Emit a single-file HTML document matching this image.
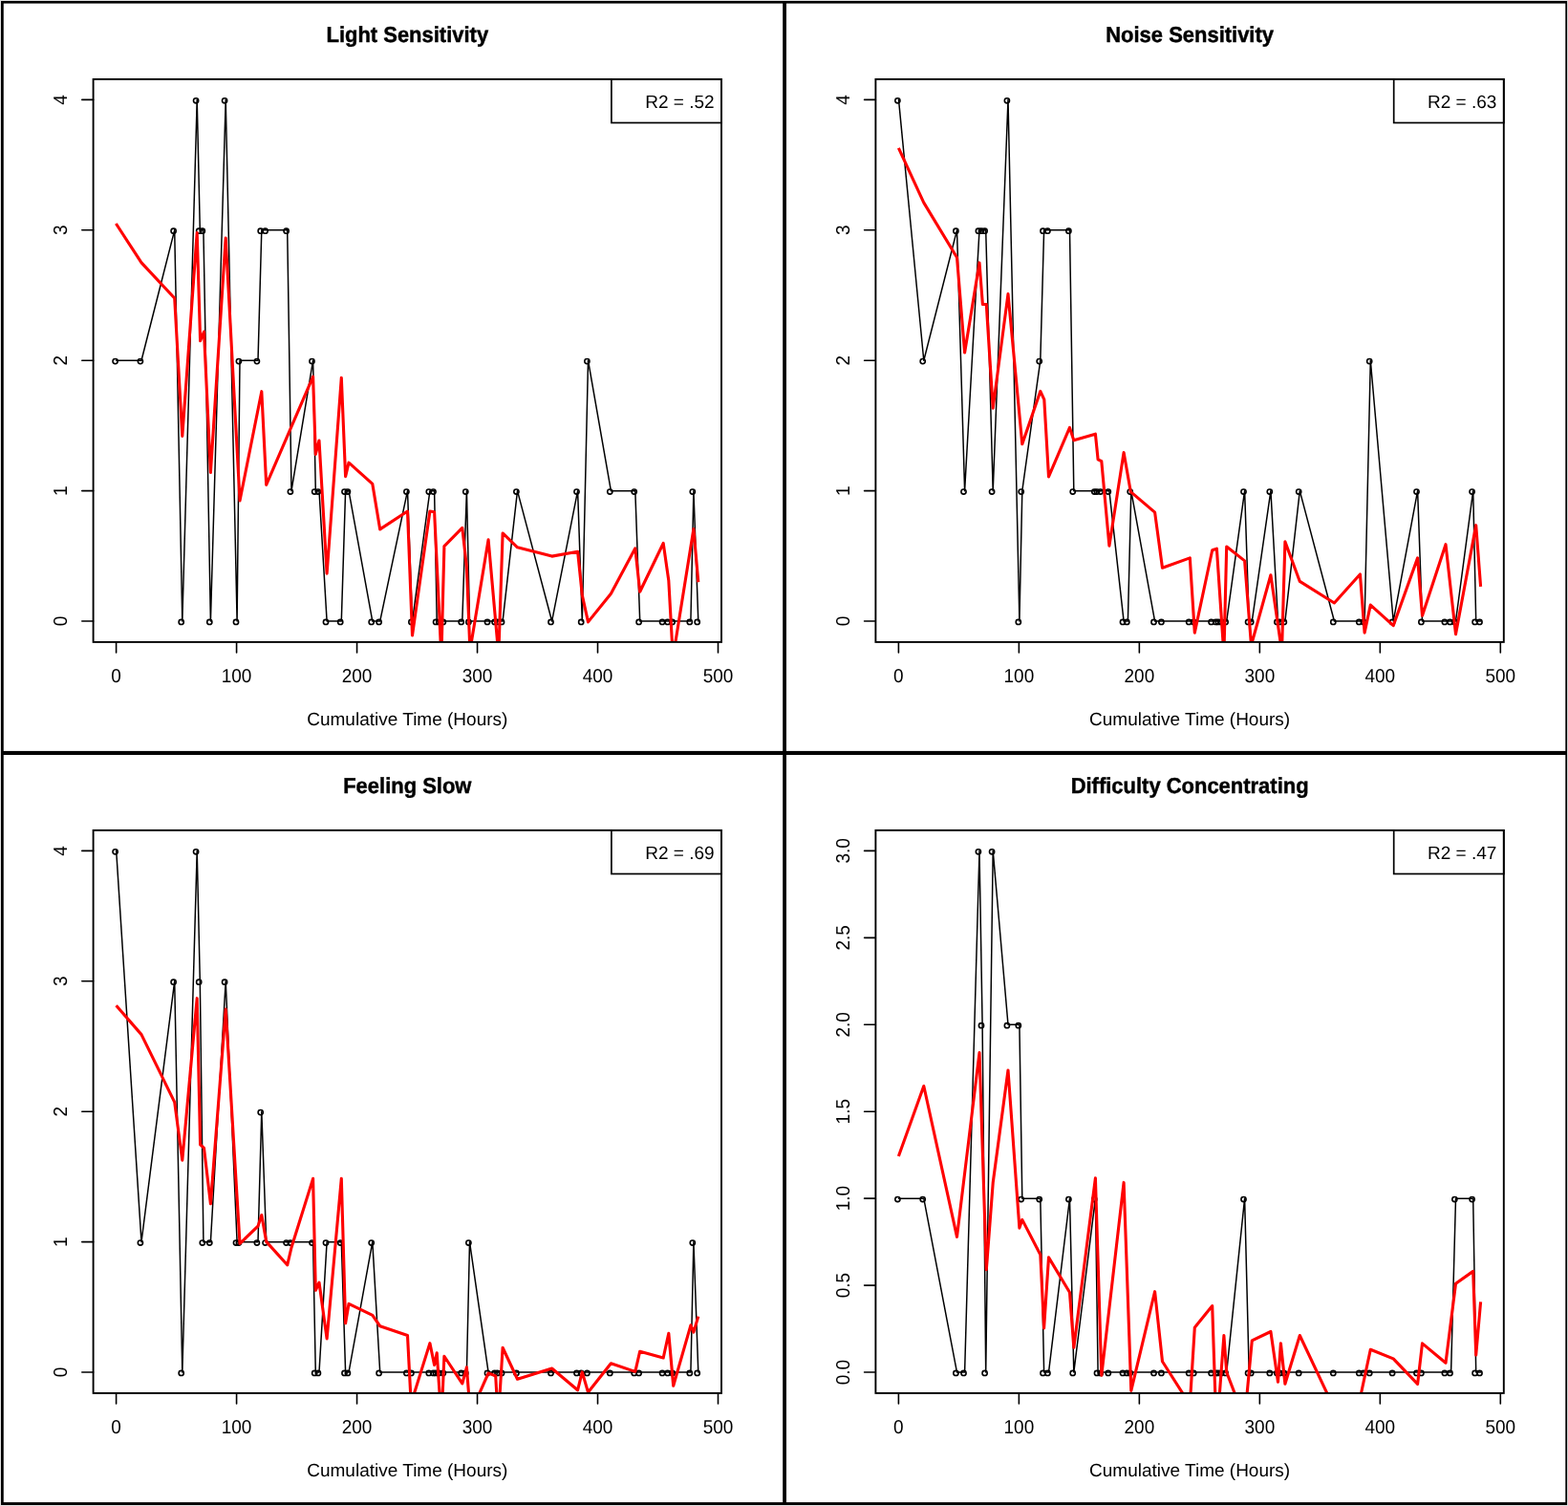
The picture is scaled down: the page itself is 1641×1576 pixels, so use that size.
<!DOCTYPE html>
<html><head><meta charset="utf-8"><title>Symptom time series</title>
<style>
html,body{margin:0;padding:0;background:#fff;}
svg{display:block;}
text{font-family:"Liberation Sans",Arial,sans-serif;fill:#000;text-rendering:geometricPrecision;}
.ttl{font-weight:bold;font-size:23.0px;text-anchor:middle;stroke:#000;stroke-width:0.45px;}
.lab{font-size:19.0px;text-anchor:middle;}
.tk{font-size:19.0px;text-anchor:middle;}
.lg{font-size:19.0px;text-anchor:end;}
.ax{stroke:#000;stroke-width:1.6;fill:none;stroke-linecap:round;}
.box{stroke:#000;stroke-width:1.9;fill:none;}
.leg{stroke:#000;stroke-width:1.7;fill:none;}
.bl{stroke:#000;stroke-width:1.5;fill:none;stroke-linejoin:round;stroke-linecap:round;}
.pt{stroke:#000;stroke-width:1.6;fill:none;}
.rd{stroke:#f00;stroke-width:3.1;fill:none;stroke-linejoin:round;stroke-linecap:butt;}
</style></head>
<body>
<svg width="1641" height="1576" viewBox="0 0 1641 1576">
<rect x="0" y="0" width="1641" height="1576" fill="#e0e0e0"/>
<rect x="1" y="1" width="1639.05" height="1574" fill="#000"/>
<rect x="3.75" y="3.6" width="815.45" height="782.3" fill="#fff"/>
<rect x="823.0" y="3.6" width="815.3" height="782.3" fill="#fff"/>
<rect x="3.75" y="790.0" width="815.45" height="782.1" fill="#fff"/>
<rect x="823.0" y="790.0" width="815.3" height="782.1" fill="#fff"/>
<clipPath id="clipTL"><rect x="97.6" y="82.9" width="657.4" height="589"/></clipPath>
<text class="ttl" transform="translate(426.3 44.3) scale(0.955 1.0)">Light Sensitivity</text>
<text class="lab" transform="translate(426.3 758.8) scale(1.0 1.0)">Cumulative Time (Hours)</text>
<path class="ax" d="M121.6 671.9V682.9M247.58 671.9V682.9M373.56 671.9V682.9M499.54 671.9V682.9M625.52 671.9V682.9M751.5 671.9V682.9M97.6 650.05H85.8M97.6 513.64H85.8M97.6 377.22H85.8M97.6 240.81H85.8M97.6 104.4H85.8"/>
<text class="tk" transform="translate(121.6 713.6) scale(1.0 1.06)">0</text>
<text class="tk" transform="translate(247.58 713.6) scale(1.0 1.06)">100</text>
<text class="tk" transform="translate(373.56 713.6) scale(1.0 1.06)">200</text>
<text class="tk" transform="translate(499.54 713.6) scale(1.0 1.06)">300</text>
<text class="tk" transform="translate(625.52 713.6) scale(1.0 1.06)">400</text>
<text class="tk" transform="translate(751.5 713.6) scale(1.0 1.06)">500</text>
<text class="tk" transform="translate(69.9 650.05) rotate(-90) scale(1.0 1.06)">0</text>
<text class="tk" transform="translate(69.9 513.64) rotate(-90) scale(1.0 1.06)">1</text>
<text class="tk" transform="translate(69.9 377.22) rotate(-90) scale(1.0 1.06)">2</text>
<text class="tk" transform="translate(69.9 240.81) rotate(-90) scale(1.0 1.06)">3</text>
<text class="tk" transform="translate(69.9 104.4) rotate(-90) scale(1.0 1.06)">4</text>
<g clip-path="url(#clipTL)">
<polyline class="bl" points="121.7,377.22 148,377.22 182.7,240.81 190.8,650.05 206.2,104.4 209.3,240.81 212.9,240.81 220.4,650.05 236.2,104.4 248.1,650.05 251,377.22 270,377.22 273.8,240.81 278.7,240.81 300.7,240.81 305,513.64 327.6,377.22 330.3,513.64 334,513.64 342.1,650.05 357.3,650.05 361.6,513.64 365,513.64 389.8,650.05 397.7,650.05 426.5,513.64 431.5,650.05 449.9,513.64 454.6,513.64 457.2,650.05 460.4,650.05 464.9,650.05 483.8,650.05 488.4,513.64 491.5,650.05 511.1,650.05 518.7,650.05 521.6,650.05 526.1,650.05 541.5,513.64 577.6,650.05 604.6,513.64 609.3,650.05 615.5,377.22 639.4,513.64 664.8,513.64 669.7,650.05 694.2,650.05 699.8,650.05 704.7,650.05 722.9,650.05 725.9,513.64 730.8,650.05"/>
<circle class="pt" cx="120.6" cy="378.12" r="2.6"/>
<circle class="pt" cx="146.9" cy="378.12" r="2.6"/>
<circle class="pt" cx="181.6" cy="241.71" r="2.6"/>
<circle class="pt" cx="189.7" cy="650.95" r="2.6"/>
<circle class="pt" cx="205.1" cy="105.3" r="2.6"/>
<circle class="pt" cx="208.2" cy="241.71" r="2.6"/>
<circle class="pt" cx="211.8" cy="241.71" r="2.6"/>
<circle class="pt" cx="219.3" cy="650.95" r="2.6"/>
<circle class="pt" cx="235.1" cy="105.3" r="2.6"/>
<circle class="pt" cx="247" cy="650.95" r="2.6"/>
<circle class="pt" cx="249.9" cy="378.12" r="2.6"/>
<circle class="pt" cx="268.9" cy="378.12" r="2.6"/>
<circle class="pt" cx="272.7" cy="241.71" r="2.6"/>
<circle class="pt" cx="277.6" cy="241.71" r="2.6"/>
<circle class="pt" cx="299.6" cy="241.71" r="2.6"/>
<circle class="pt" cx="303.9" cy="514.54" r="2.6"/>
<circle class="pt" cx="326.5" cy="378.12" r="2.6"/>
<circle class="pt" cx="329.2" cy="514.54" r="2.6"/>
<circle class="pt" cx="332.9" cy="514.54" r="2.6"/>
<circle class="pt" cx="341" cy="650.95" r="2.6"/>
<circle class="pt" cx="356.2" cy="650.95" r="2.6"/>
<circle class="pt" cx="360.5" cy="514.54" r="2.6"/>
<circle class="pt" cx="363.9" cy="514.54" r="2.6"/>
<circle class="pt" cx="388.7" cy="650.95" r="2.6"/>
<circle class="pt" cx="396.6" cy="650.95" r="2.6"/>
<circle class="pt" cx="425.4" cy="514.54" r="2.6"/>
<circle class="pt" cx="430.4" cy="650.95" r="2.6"/>
<circle class="pt" cx="448.8" cy="514.54" r="2.6"/>
<circle class="pt" cx="453.5" cy="514.54" r="2.6"/>
<circle class="pt" cx="456.1" cy="650.95" r="2.6"/>
<circle class="pt" cx="459.3" cy="650.95" r="2.6"/>
<circle class="pt" cx="463.8" cy="650.95" r="2.6"/>
<circle class="pt" cx="482.7" cy="650.95" r="2.6"/>
<circle class="pt" cx="487.3" cy="514.54" r="2.6"/>
<circle class="pt" cx="490.4" cy="650.95" r="2.6"/>
<circle class="pt" cx="510" cy="650.95" r="2.6"/>
<circle class="pt" cx="517.6" cy="650.95" r="2.6"/>
<circle class="pt" cx="520.5" cy="650.95" r="2.6"/>
<circle class="pt" cx="525" cy="650.95" r="2.6"/>
<circle class="pt" cx="540.4" cy="514.54" r="2.6"/>
<circle class="pt" cx="576.5" cy="650.95" r="2.6"/>
<circle class="pt" cx="603.5" cy="514.54" r="2.6"/>
<circle class="pt" cx="608.2" cy="650.95" r="2.6"/>
<circle class="pt" cx="614.4" cy="378.12" r="2.6"/>
<circle class="pt" cx="638.3" cy="514.54" r="2.6"/>
<circle class="pt" cx="663.7" cy="514.54" r="2.6"/>
<circle class="pt" cx="668.6" cy="650.95" r="2.6"/>
<circle class="pt" cx="693.1" cy="650.95" r="2.6"/>
<circle class="pt" cx="698.7" cy="650.95" r="2.6"/>
<circle class="pt" cx="703.6" cy="650.95" r="2.6"/>
<circle class="pt" cx="721.8" cy="650.95" r="2.6"/>
<circle class="pt" cx="724.8" cy="514.54" r="2.6"/>
<circle class="pt" cx="729.7" cy="650.95" r="2.6"/>
<polyline class="rd" points="121.4,233.99 148,274.92 182.7,312.02 190.8,456.34 206.2,243.54 209.6,356.76 213.5,347.21 220.4,494.54 236.2,249 251,523.87 273.8,409.69 278.7,507.36 327.6,394.14 330.3,475.44 334,460.98 342.1,600.26 357.3,395.37 361.6,498.63 365,484.17 389.8,506.41 397.7,553.88 426.5,535.05 431.5,665.06 449.9,535.05 454.6,535.74 461.9,687.97 464.9,571.61 483.8,552.38 488.4,593.3 491.9,680.74 511.1,564.79 521.8,685.52 526.1,557.97 541.5,572.84 577.6,582.12 604.6,577.21 609.3,622.77 615.5,650.87 639.4,621.27 664.8,573.8 669.7,619.22 694.2,568.48 699.8,607.49 704.3,688.25 725.9,553.61 730.8,609.26"/>
</g>
<rect class="box" x="97.6" y="82.9" width="657.4" height="589"/>
<rect class="leg" x="639.9" y="82.9" width="115.1" height="45.6"/>
<text class="lg" transform="translate(747.6 112.9) scale(1.0 1.0)">R2 = .52</text>
<clipPath id="clipTR"><rect x="916.4" y="82.9" width="657.4" height="589"/></clipPath>
<text class="ttl" transform="translate(1245.1 44.3) scale(0.955 1.0)">Noise Sensitivity</text>
<text class="lab" transform="translate(1245.1 758.8) scale(1.0 1.0)">Cumulative Time (Hours)</text>
<path class="ax" d="M940.4 671.9V682.9M1066.38 671.9V682.9M1192.36 671.9V682.9M1318.34 671.9V682.9M1444.32 671.9V682.9M1570.3 671.9V682.9M916.4 650.05H904.6M916.4 513.64H904.6M916.4 377.22H904.6M916.4 240.81H904.6M916.4 104.4H904.6"/>
<text class="tk" transform="translate(940.4 713.6) scale(1.0 1.06)">0</text>
<text class="tk" transform="translate(1066.38 713.6) scale(1.0 1.06)">100</text>
<text class="tk" transform="translate(1192.36 713.6) scale(1.0 1.06)">200</text>
<text class="tk" transform="translate(1318.34 713.6) scale(1.0 1.06)">300</text>
<text class="tk" transform="translate(1444.32 713.6) scale(1.0 1.06)">400</text>
<text class="tk" transform="translate(1570.3 713.6) scale(1.0 1.06)">500</text>
<text class="tk" transform="translate(888.7 650.05) rotate(-90) scale(1.0 1.06)">0</text>
<text class="tk" transform="translate(888.7 513.64) rotate(-90) scale(1.0 1.06)">1</text>
<text class="tk" transform="translate(888.7 377.22) rotate(-90) scale(1.0 1.06)">2</text>
<text class="tk" transform="translate(888.7 240.81) rotate(-90) scale(1.0 1.06)">3</text>
<text class="tk" transform="translate(888.7 104.4) rotate(-90) scale(1.0 1.06)">4</text>
<g clip-path="url(#clipTR)">
<polyline class="bl" points="940.5,104.4 966.8,377.22 1001.5,240.81 1009.6,513.64 1025,240.81 1028.1,240.81 1031.7,240.81 1039.2,513.64 1055,104.4 1066.9,650.05 1069.8,513.64 1088.8,377.22 1092.6,240.81 1097.5,240.81 1119.5,240.81 1123.8,513.64 1146.4,513.64 1149.1,513.64 1152.8,513.64 1160.9,513.64 1176.1,650.05 1180.4,650.05 1183.8,513.64 1208.6,650.05 1216.5,650.05 1245.3,650.05 1250.3,650.05 1268.7,650.05 1273.4,650.05 1276,650.05 1279.2,650.05 1283.7,650.05 1302.6,513.64 1307.2,650.05 1310.3,650.05 1329.9,513.64 1337.5,650.05 1340.4,650.05 1344.9,650.05 1360.3,513.64 1396.4,650.05 1423.4,650.05 1428.1,650.05 1434.3,377.22 1458.2,650.05 1483.6,513.64 1488.5,650.05 1513,650.05 1518.6,650.05 1523.5,650.05 1541.7,513.64 1544.7,650.05 1549.6,650.05"/>
<circle class="pt" cx="939.4" cy="105.3" r="2.6"/>
<circle class="pt" cx="965.7" cy="378.12" r="2.6"/>
<circle class="pt" cx="1000.4" cy="241.71" r="2.6"/>
<circle class="pt" cx="1008.5" cy="514.54" r="2.6"/>
<circle class="pt" cx="1023.9" cy="241.71" r="2.6"/>
<circle class="pt" cx="1027" cy="241.71" r="2.6"/>
<circle class="pt" cx="1030.6" cy="241.71" r="2.6"/>
<circle class="pt" cx="1038.1" cy="514.54" r="2.6"/>
<circle class="pt" cx="1053.9" cy="105.3" r="2.6"/>
<circle class="pt" cx="1065.8" cy="650.95" r="2.6"/>
<circle class="pt" cx="1068.7" cy="514.54" r="2.6"/>
<circle class="pt" cx="1087.7" cy="378.12" r="2.6"/>
<circle class="pt" cx="1091.5" cy="241.71" r="2.6"/>
<circle class="pt" cx="1096.4" cy="241.71" r="2.6"/>
<circle class="pt" cx="1118.4" cy="241.71" r="2.6"/>
<circle class="pt" cx="1122.7" cy="514.54" r="2.6"/>
<circle class="pt" cx="1145.3" cy="514.54" r="2.6"/>
<circle class="pt" cx="1148" cy="514.54" r="2.6"/>
<circle class="pt" cx="1151.7" cy="514.54" r="2.6"/>
<circle class="pt" cx="1159.8" cy="514.54" r="2.6"/>
<circle class="pt" cx="1175" cy="650.95" r="2.6"/>
<circle class="pt" cx="1179.3" cy="650.95" r="2.6"/>
<circle class="pt" cx="1182.7" cy="514.54" r="2.6"/>
<circle class="pt" cx="1207.5" cy="650.95" r="2.6"/>
<circle class="pt" cx="1215.4" cy="650.95" r="2.6"/>
<circle class="pt" cx="1244.2" cy="650.95" r="2.6"/>
<circle class="pt" cx="1249.2" cy="650.95" r="2.6"/>
<circle class="pt" cx="1267.6" cy="650.95" r="2.6"/>
<circle class="pt" cx="1272.3" cy="650.95" r="2.6"/>
<circle class="pt" cx="1274.9" cy="650.95" r="2.6"/>
<circle class="pt" cx="1278.1" cy="650.95" r="2.6"/>
<circle class="pt" cx="1282.6" cy="650.95" r="2.6"/>
<circle class="pt" cx="1301.5" cy="514.54" r="2.6"/>
<circle class="pt" cx="1306.1" cy="650.95" r="2.6"/>
<circle class="pt" cx="1309.2" cy="650.95" r="2.6"/>
<circle class="pt" cx="1328.8" cy="514.54" r="2.6"/>
<circle class="pt" cx="1336.4" cy="650.95" r="2.6"/>
<circle class="pt" cx="1339.3" cy="650.95" r="2.6"/>
<circle class="pt" cx="1343.8" cy="650.95" r="2.6"/>
<circle class="pt" cx="1359.2" cy="514.54" r="2.6"/>
<circle class="pt" cx="1395.3" cy="650.95" r="2.6"/>
<circle class="pt" cx="1422.3" cy="650.95" r="2.6"/>
<circle class="pt" cx="1427" cy="650.95" r="2.6"/>
<circle class="pt" cx="1433.2" cy="378.12" r="2.6"/>
<circle class="pt" cx="1457.1" cy="650.95" r="2.6"/>
<circle class="pt" cx="1482.5" cy="514.54" r="2.6"/>
<circle class="pt" cx="1487.4" cy="650.95" r="2.6"/>
<circle class="pt" cx="1511.9" cy="650.95" r="2.6"/>
<circle class="pt" cx="1517.5" cy="650.95" r="2.6"/>
<circle class="pt" cx="1522.4" cy="650.95" r="2.6"/>
<circle class="pt" cx="1540.6" cy="514.54" r="2.6"/>
<circle class="pt" cx="1543.6" cy="650.95" r="2.6"/>
<circle class="pt" cx="1548.5" cy="650.95" r="2.6"/>
<polyline class="rd" points="940.4,154.87 966.8,212.17 1001.5,269.46 1009.6,369.04 1025,274.92 1028.4,318.57 1032.3,318.57 1039.2,427.15 1055,307.65 1069.8,464.8 1088.8,409.42 1092.8,418.15 1097.5,498.9 1119.5,447.48 1123.8,460.85 1146.4,454.16 1149.1,480.76 1152.8,482.67 1160.9,571.2 1176.1,473.53 1183.3,514.59 1208.6,536.15 1216.5,594.26 1245.3,583.89 1250.3,662.19 1268.7,575.71 1273.4,574.2 1280.9,685.24 1283.7,572.02 1302.6,586.89 1309.5,675.29 1329.9,601.76 1341.5,681.83 1344.9,566.84 1360.3,608.44 1396.4,630.95 1423.4,600.94 1428.1,662.19 1434.3,633.13 1458.2,654.69 1483.6,583.89 1488.5,644.32 1513,569.7 1523.5,663.69 1544.7,549.65 1549.6,613.76"/>
</g>
<rect class="box" x="916.4" y="82.9" width="657.4" height="589"/>
<rect class="leg" x="1458.7" y="82.9" width="115.1" height="45.6"/>
<text class="lg" transform="translate(1566.4 112.9) scale(1.0 1.0)">R2 = .63</text>
<clipPath id="clipBL"><rect x="97.6" y="868.9" width="657.4" height="589"/></clipPath>
<text class="ttl" transform="translate(426.3 830.3) scale(0.955 1.0)">Feeling Slow</text>
<text class="lab" transform="translate(426.3 1544.8) scale(1.0 1.0)">Cumulative Time (Hours)</text>
<path class="ax" d="M121.6 1457.9V1468.9M247.58 1457.9V1468.9M373.56 1457.9V1468.9M499.54 1457.9V1468.9M625.52 1457.9V1468.9M751.5 1457.9V1468.9M97.6 1436.05H85.8M97.6 1299.64H85.8M97.6 1163.22H85.8M97.6 1026.81H85.8M97.6 890.4H85.8"/>
<text class="tk" transform="translate(121.6 1499.6) scale(1.0 1.06)">0</text>
<text class="tk" transform="translate(247.58 1499.6) scale(1.0 1.06)">100</text>
<text class="tk" transform="translate(373.56 1499.6) scale(1.0 1.06)">200</text>
<text class="tk" transform="translate(499.54 1499.6) scale(1.0 1.06)">300</text>
<text class="tk" transform="translate(625.52 1499.6) scale(1.0 1.06)">400</text>
<text class="tk" transform="translate(751.5 1499.6) scale(1.0 1.06)">500</text>
<text class="tk" transform="translate(69.9 1436.05) rotate(-90) scale(1.0 1.06)">0</text>
<text class="tk" transform="translate(69.9 1299.64) rotate(-90) scale(1.0 1.06)">1</text>
<text class="tk" transform="translate(69.9 1163.22) rotate(-90) scale(1.0 1.06)">2</text>
<text class="tk" transform="translate(69.9 1026.81) rotate(-90) scale(1.0 1.06)">3</text>
<text class="tk" transform="translate(69.9 890.4) rotate(-90) scale(1.0 1.06)">4</text>
<g clip-path="url(#clipBL)">
<polyline class="bl" points="121.7,890.4 148,1299.64 182.7,1026.81 190.8,1436.05 206.2,890.4 209.3,1026.81 212.9,1299.64 220.4,1299.64 236.2,1026.81 248.1,1299.64 251,1299.64 270,1299.64 273.8,1163.22 278.7,1299.64 300.7,1299.64 305,1299.64 327.6,1299.64 330.3,1436.05 334,1436.05 342.1,1299.64 357.3,1299.64 361.6,1436.05 365,1436.05 389.8,1299.64 397.7,1436.05 426.5,1436.05 431.5,1436.05 449.9,1436.05 454.6,1436.05 457.2,1436.05 460.4,1436.05 464.9,1436.05 483.8,1436.05 488.4,1436.05 491.5,1299.64 511.1,1436.05 518.7,1436.05 521.6,1436.05 526.1,1436.05 541.5,1436.05 577.6,1436.05 604.6,1436.05 609.3,1436.05 615.5,1436.05 639.4,1436.05 664.8,1436.05 669.7,1436.05 694.2,1436.05 699.8,1436.05 704.7,1436.05 722.9,1436.05 725.9,1299.64 730.8,1436.05"/>
<circle class="pt" cx="120.6" cy="891.3" r="2.6"/>
<circle class="pt" cx="146.9" cy="1300.54" r="2.6"/>
<circle class="pt" cx="181.6" cy="1027.71" r="2.6"/>
<circle class="pt" cx="189.7" cy="1436.95" r="2.6"/>
<circle class="pt" cx="205.1" cy="891.3" r="2.6"/>
<circle class="pt" cx="208.2" cy="1027.71" r="2.6"/>
<circle class="pt" cx="211.8" cy="1300.54" r="2.6"/>
<circle class="pt" cx="219.3" cy="1300.54" r="2.6"/>
<circle class="pt" cx="235.1" cy="1027.71" r="2.6"/>
<circle class="pt" cx="247" cy="1300.54" r="2.6"/>
<circle class="pt" cx="249.9" cy="1300.54" r="2.6"/>
<circle class="pt" cx="268.9" cy="1300.54" r="2.6"/>
<circle class="pt" cx="272.7" cy="1164.12" r="2.6"/>
<circle class="pt" cx="277.6" cy="1300.54" r="2.6"/>
<circle class="pt" cx="299.6" cy="1300.54" r="2.6"/>
<circle class="pt" cx="303.9" cy="1300.54" r="2.6"/>
<circle class="pt" cx="326.5" cy="1300.54" r="2.6"/>
<circle class="pt" cx="329.2" cy="1436.95" r="2.6"/>
<circle class="pt" cx="332.9" cy="1436.95" r="2.6"/>
<circle class="pt" cx="341" cy="1300.54" r="2.6"/>
<circle class="pt" cx="356.2" cy="1300.54" r="2.6"/>
<circle class="pt" cx="360.5" cy="1436.95" r="2.6"/>
<circle class="pt" cx="363.9" cy="1436.95" r="2.6"/>
<circle class="pt" cx="388.7" cy="1300.54" r="2.6"/>
<circle class="pt" cx="396.6" cy="1436.95" r="2.6"/>
<circle class="pt" cx="425.4" cy="1436.95" r="2.6"/>
<circle class="pt" cx="430.4" cy="1436.95" r="2.6"/>
<circle class="pt" cx="448.8" cy="1436.95" r="2.6"/>
<circle class="pt" cx="453.5" cy="1436.95" r="2.6"/>
<circle class="pt" cx="456.1" cy="1436.95" r="2.6"/>
<circle class="pt" cx="459.3" cy="1436.95" r="2.6"/>
<circle class="pt" cx="463.8" cy="1436.95" r="2.6"/>
<circle class="pt" cx="482.7" cy="1436.95" r="2.6"/>
<circle class="pt" cx="487.3" cy="1436.95" r="2.6"/>
<circle class="pt" cx="490.4" cy="1300.54" r="2.6"/>
<circle class="pt" cx="510" cy="1436.95" r="2.6"/>
<circle class="pt" cx="517.6" cy="1436.95" r="2.6"/>
<circle class="pt" cx="520.5" cy="1436.95" r="2.6"/>
<circle class="pt" cx="525" cy="1436.95" r="2.6"/>
<circle class="pt" cx="540.4" cy="1436.95" r="2.6"/>
<circle class="pt" cx="576.5" cy="1436.95" r="2.6"/>
<circle class="pt" cx="603.5" cy="1436.95" r="2.6"/>
<circle class="pt" cx="608.2" cy="1436.95" r="2.6"/>
<circle class="pt" cx="614.4" cy="1436.95" r="2.6"/>
<circle class="pt" cx="638.3" cy="1436.95" r="2.6"/>
<circle class="pt" cx="663.7" cy="1436.95" r="2.6"/>
<circle class="pt" cx="668.6" cy="1436.95" r="2.6"/>
<circle class="pt" cx="693.1" cy="1436.95" r="2.6"/>
<circle class="pt" cx="698.7" cy="1436.95" r="2.6"/>
<circle class="pt" cx="703.6" cy="1436.95" r="2.6"/>
<circle class="pt" cx="721.8" cy="1436.95" r="2.6"/>
<circle class="pt" cx="724.8" cy="1300.54" r="2.6"/>
<circle class="pt" cx="729.7" cy="1436.95" r="2.6"/>
<polyline class="rd" points="121.6,1052.32 148,1082.61 182.7,1153.4 190.8,1214.11 206.2,1044.68 209.6,1197.87 213.5,1201.42 220.4,1259.81 236.2,1056.14 251,1301.41 270,1283.13 273.8,1271.54 278.7,1299.36 300.7,1323.78 305,1305.5 327.6,1233.34 330.3,1350.25 334,1342.06 342.1,1400.86 357.3,1233.34 361.6,1384.76 365,1364.43 389.8,1376.44 397.7,1387.76 426.5,1397.58 430.2,1468.79 449.9,1405.63 454.6,1428.55 457.2,1415.86 460.4,1463.33 463,1463.33 464.9,1419.27 483.8,1447.92 488.4,1430.87 492.2,1479.7 511.1,1437 518.7,1439.87 521.4,1486.52 526.1,1410.27 541.5,1443.28 577.6,1431.96 604.6,1454.74 609.3,1435.91 615.5,1457.06 639.4,1426.77 664.8,1435.37 669.7,1414.22 694.2,1421.04 699.8,1395.26 704.7,1450.24 722.9,1386.81 725.9,1394.17 730.8,1377.67"/>
</g>
<rect class="box" x="97.6" y="868.9" width="657.4" height="589"/>
<rect class="leg" x="639.9" y="868.9" width="115.1" height="45.6"/>
<text class="lg" transform="translate(747.6 898.9) scale(1.0 1.0)">R2 = .69</text>
<clipPath id="clipBR"><rect x="916.4" y="868.9" width="657.4" height="589"/></clipPath>
<text class="ttl" transform="translate(1245.1 830.3) scale(0.955 1.0)">Difficulty Concentrating</text>
<text class="lab" transform="translate(1245.1 1544.8) scale(1.0 1.0)">Cumulative Time (Hours)</text>
<path class="ax" d="M940.4 1457.9V1468.9M1066.38 1457.9V1468.9M1192.36 1457.9V1468.9M1318.34 1457.9V1468.9M1444.32 1457.9V1468.9M1570.3 1457.9V1468.9M916.4 1436.05H904.6M916.4 1345.11H904.6M916.4 1254.17H904.6M916.4 1163.22H904.6M916.4 1072.28H904.6M916.4 981.34H904.6M916.4 890.4H904.6"/>
<text class="tk" transform="translate(940.4 1499.6) scale(1.0 1.06)">0</text>
<text class="tk" transform="translate(1066.38 1499.6) scale(1.0 1.06)">100</text>
<text class="tk" transform="translate(1192.36 1499.6) scale(1.0 1.06)">200</text>
<text class="tk" transform="translate(1318.34 1499.6) scale(1.0 1.06)">300</text>
<text class="tk" transform="translate(1444.32 1499.6) scale(1.0 1.06)">400</text>
<text class="tk" transform="translate(1570.3 1499.6) scale(1.0 1.06)">500</text>
<text class="tk" transform="translate(888.7 1436.05) rotate(-90) scale(1.0 1.06)">0.0</text>
<text class="tk" transform="translate(888.7 1345.11) rotate(-90) scale(1.0 1.06)">0.5</text>
<text class="tk" transform="translate(888.7 1254.17) rotate(-90) scale(1.0 1.06)">1.0</text>
<text class="tk" transform="translate(888.7 1163.22) rotate(-90) scale(1.0 1.06)">1.5</text>
<text class="tk" transform="translate(888.7 1072.28) rotate(-90) scale(1.0 1.06)">2.0</text>
<text class="tk" transform="translate(888.7 981.34) rotate(-90) scale(1.0 1.06)">2.5</text>
<text class="tk" transform="translate(888.7 890.4) rotate(-90) scale(1.0 1.06)">3.0</text>
<g clip-path="url(#clipBR)">
<polyline class="bl" points="940.5,1254.17 966.8,1254.17 1001.5,1436.05 1009.6,1436.05 1025,890.4 1028.1,1072.28 1031.7,1436.05 1039.2,890.4 1055,1072.28 1066.9,1072.28 1069.8,1254.17 1088.8,1254.17 1092.6,1436.05 1097.5,1436.05 1119.5,1254.17 1123.8,1436.05 1146.4,1254.17 1149.1,1436.05 1152.8,1436.05 1160.9,1436.05 1176.1,1436.05 1180.4,1436.05 1183.8,1436.05 1208.6,1436.05 1216.5,1436.05 1245.3,1436.05 1250.3,1436.05 1268.7,1436.05 1273.4,1436.05 1276,1436.05 1279.2,1436.05 1283.7,1436.05 1302.6,1254.17 1307.2,1436.05 1310.3,1436.05 1329.9,1436.05 1337.5,1436.05 1340.4,1436.05 1344.9,1436.05 1360.3,1436.05 1396.4,1436.05 1423.4,1436.05 1428.1,1436.05 1434.3,1436.05 1458.2,1436.05 1483.6,1436.05 1488.5,1436.05 1513,1436.05 1518.6,1436.05 1523.5,1254.17 1541.7,1254.17 1544.7,1436.05 1549.6,1436.05"/>
<circle class="pt" cx="939.4" cy="1255.07" r="2.6"/>
<circle class="pt" cx="965.7" cy="1255.07" r="2.6"/>
<circle class="pt" cx="1000.4" cy="1436.95" r="2.6"/>
<circle class="pt" cx="1008.5" cy="1436.95" r="2.6"/>
<circle class="pt" cx="1023.9" cy="891.3" r="2.6"/>
<circle class="pt" cx="1027" cy="1073.18" r="2.6"/>
<circle class="pt" cx="1030.6" cy="1436.95" r="2.6"/>
<circle class="pt" cx="1038.1" cy="891.3" r="2.6"/>
<circle class="pt" cx="1053.9" cy="1073.18" r="2.6"/>
<circle class="pt" cx="1065.8" cy="1073.18" r="2.6"/>
<circle class="pt" cx="1068.7" cy="1255.07" r="2.6"/>
<circle class="pt" cx="1087.7" cy="1255.07" r="2.6"/>
<circle class="pt" cx="1091.5" cy="1436.95" r="2.6"/>
<circle class="pt" cx="1096.4" cy="1436.95" r="2.6"/>
<circle class="pt" cx="1118.4" cy="1255.07" r="2.6"/>
<circle class="pt" cx="1122.7" cy="1436.95" r="2.6"/>
<circle class="pt" cx="1145.3" cy="1255.07" r="2.6"/>
<circle class="pt" cx="1148" cy="1436.95" r="2.6"/>
<circle class="pt" cx="1151.7" cy="1436.95" r="2.6"/>
<circle class="pt" cx="1159.8" cy="1436.95" r="2.6"/>
<circle class="pt" cx="1175" cy="1436.95" r="2.6"/>
<circle class="pt" cx="1179.3" cy="1436.95" r="2.6"/>
<circle class="pt" cx="1182.7" cy="1436.95" r="2.6"/>
<circle class="pt" cx="1207.5" cy="1436.95" r="2.6"/>
<circle class="pt" cx="1215.4" cy="1436.95" r="2.6"/>
<circle class="pt" cx="1244.2" cy="1436.95" r="2.6"/>
<circle class="pt" cx="1249.2" cy="1436.95" r="2.6"/>
<circle class="pt" cx="1267.6" cy="1436.95" r="2.6"/>
<circle class="pt" cx="1272.3" cy="1436.95" r="2.6"/>
<circle class="pt" cx="1274.9" cy="1436.95" r="2.6"/>
<circle class="pt" cx="1278.1" cy="1436.95" r="2.6"/>
<circle class="pt" cx="1282.6" cy="1436.95" r="2.6"/>
<circle class="pt" cx="1301.5" cy="1255.07" r="2.6"/>
<circle class="pt" cx="1306.1" cy="1436.95" r="2.6"/>
<circle class="pt" cx="1309.2" cy="1436.95" r="2.6"/>
<circle class="pt" cx="1328.8" cy="1436.95" r="2.6"/>
<circle class="pt" cx="1336.4" cy="1436.95" r="2.6"/>
<circle class="pt" cx="1339.3" cy="1436.95" r="2.6"/>
<circle class="pt" cx="1343.8" cy="1436.95" r="2.6"/>
<circle class="pt" cx="1359.2" cy="1436.95" r="2.6"/>
<circle class="pt" cx="1395.3" cy="1436.95" r="2.6"/>
<circle class="pt" cx="1422.3" cy="1436.95" r="2.6"/>
<circle class="pt" cx="1427" cy="1436.95" r="2.6"/>
<circle class="pt" cx="1433.2" cy="1436.95" r="2.6"/>
<circle class="pt" cx="1457.1" cy="1436.95" r="2.6"/>
<circle class="pt" cx="1482.5" cy="1436.95" r="2.6"/>
<circle class="pt" cx="1487.4" cy="1436.95" r="2.6"/>
<circle class="pt" cx="1511.9" cy="1436.95" r="2.6"/>
<circle class="pt" cx="1517.5" cy="1436.95" r="2.6"/>
<circle class="pt" cx="1522.4" cy="1255.07" r="2.6"/>
<circle class="pt" cx="1540.6" cy="1255.07" r="2.6"/>
<circle class="pt" cx="1543.6" cy="1436.95" r="2.6"/>
<circle class="pt" cx="1548.5" cy="1436.95" r="2.6"/>
<polyline class="rd" points="940.4,1209.97 966.8,1136.49 1001.5,1294.36 1025,1101.57 1032.3,1328.74 1039.2,1237.8 1055,1119.94 1066.9,1285.09 1069.8,1276.36 1088.8,1312.91 1092.6,1389.85 1097.5,1315.83 1119.5,1352.57 1123.8,1410.22 1146.4,1232.89 1152.8,1439.32 1176.1,1237.43 1183.8,1455.33 1208.6,1351.66 1216.5,1424.77 1245.3,1469.88 1250.3,1389.31 1268.7,1366.57 1273.2,1501.53 1280.9,1397.49 1283.7,1436.05 1302.6,1485.16 1310.3,1402.95 1329.9,1393.49 1337.5,1446.24 1340.4,1405.68 1344.9,1448.24 1360.3,1397.49 1396.4,1474.06 1423.4,1463.33 1434.3,1412.22 1458.2,1421.86 1483.6,1448.42 1488.5,1405.86 1513,1426.23 1523.5,1343.29 1541.7,1330.38 1544.7,1418.04 1549.6,1362.39"/>
</g>
<rect class="box" x="916.4" y="868.9" width="657.4" height="589"/>
<rect class="leg" x="1458.7" y="868.9" width="115.1" height="45.6"/>
<text class="lg" transform="translate(1566.4 898.9) scale(1.0 1.0)">R2 = .47</text>
</svg>
</body></html>
